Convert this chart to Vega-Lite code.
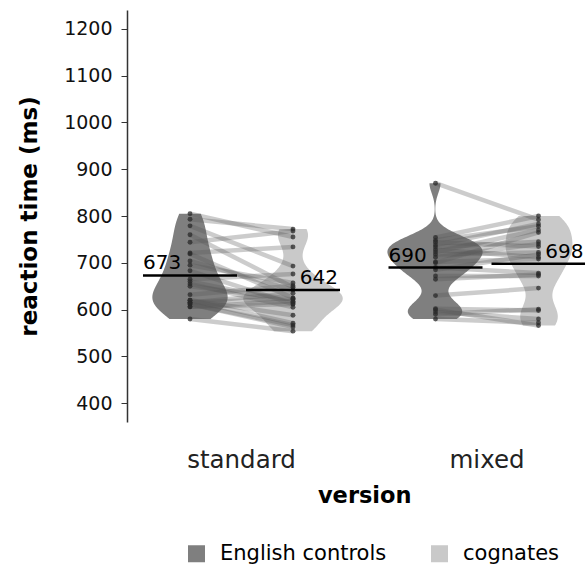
{
  "$schema": "https://vega.github.io/schema/vega-lite/v6.json",
  "autosize": {"type": "none"},
  "padding": {"left": 127, "top": 10, "right": 0, "bottom": 145},
  "width": 458,
  "height": 412,
  "background": "white",
  "config": {
    "font": "DejaVu Sans",
    "view": {"stroke": null},
    "axis": {"grid": false, "labelColor": "#111111", "titleColor": "#000000", "labelFont": "DejaVu Sans", "titleFont": "DejaVu Sans"},
    "legend": {"labelFont": "DejaVu Sans"},
    "area": {"orient": "horizontal"}
  },
  "datasets": {
    "rt": [
      {"version": "standard", "subject": "s01", "group": "English controls", "rt": 805}, {"version": "standard", "subject": "s01", "group": "cognates", "rt": 755},
      {"version": "standard", "subject": "s02", "group": "English controls", "rt": 760}, {"version": "standard", "subject": "s02", "group": "cognates", "rt": 648},
      {"version": "standard", "subject": "s03", "group": "English controls", "rt": 793}, {"version": "standard", "subject": "s03", "group": "cognates", "rt": 772},
      {"version": "standard", "subject": "s04", "group": "English controls", "rt": 779}, {"version": "standard", "subject": "s04", "group": "cognates", "rt": 693},
      {"version": "standard", "subject": "s05", "group": "English controls", "rt": 744}, {"version": "standard", "subject": "s05", "group": "cognates", "rt": 768},
      {"version": "standard", "subject": "s06", "group": "English controls", "rt": 721}, {"version": "standard", "subject": "s06", "group": "cognates", "rt": 734},
      {"version": "standard", "subject": "s07", "group": "English controls", "rt": 719}, {"version": "standard", "subject": "s07", "group": "cognates", "rt": 625},
      {"version": "standard", "subject": "s08", "group": "English controls", "rt": 704}, {"version": "standard", "subject": "s08", "group": "cognates", "rt": 642},
      {"version": "standard", "subject": "s09", "group": "English controls", "rt": 695}, {"version": "standard", "subject": "s09", "group": "cognates", "rt": 657},
      {"version": "standard", "subject": "s10", "group": "English controls", "rt": 683}, {"version": "standard", "subject": "s10", "group": "cognates", "rt": 612},
      {"version": "standard", "subject": "s11", "group": "English controls", "rt": 665}, {"version": "standard", "subject": "s11", "group": "cognates", "rt": 676},
      {"version": "standard", "subject": "s12", "group": "English controls", "rt": 660}, {"version": "standard", "subject": "s12", "group": "cognates", "rt": 616},
      {"version": "standard", "subject": "s13", "group": "English controls", "rt": 655}, {"version": "standard", "subject": "s13", "group": "cognates", "rt": 605},
      {"version": "standard", "subject": "s14", "group": "English controls", "rt": 650}, {"version": "standard", "subject": "s14", "group": "cognates", "rt": 622},
      {"version": "standard", "subject": "s15", "group": "English controls", "rt": 632}, {"version": "standard", "subject": "s15", "group": "cognates", "rt": 651},
      {"version": "standard", "subject": "s16", "group": "English controls", "rt": 620}, {"version": "standard", "subject": "s16", "group": "cognates", "rt": 588},
      {"version": "standard", "subject": "s17", "group": "English controls", "rt": 615}, {"version": "standard", "subject": "s17", "group": "cognates", "rt": 635},
      {"version": "standard", "subject": "s18", "group": "English controls", "rt": 612}, {"version": "standard", "subject": "s18", "group": "cognates", "rt": 567},
      {"version": "standard", "subject": "s19", "group": "English controls", "rt": 606}, {"version": "standard", "subject": "s19", "group": "cognates", "rt": 618},
      {"version": "standard", "subject": "s20", "group": "English controls", "rt": 620}, {"version": "standard", "subject": "s20", "group": "cognates", "rt": 571},
      {"version": "standard", "subject": "s21", "group": "English controls", "rt": 615}, {"version": "standard", "subject": "s21", "group": "cognates", "rt": 624},
      {"version": "standard", "subject": "s22", "group": "English controls", "rt": 612}, {"version": "standard", "subject": "s22", "group": "cognates", "rt": 563},
      {"version": "standard", "subject": "s23", "group": "English controls", "rt": 606}, {"version": "standard", "subject": "s23", "group": "cognates", "rt": 612},
      {"version": "standard", "subject": "s24", "group": "English controls", "rt": 580}, {"version": "standard", "subject": "s24", "group": "cognates", "rt": 554},
      {"version": "mixed", "subject": "m01", "group": "English controls", "rt": 870}, {"version": "mixed", "subject": "m01", "group": "cognates", "rt": 792},
      {"version": "mixed", "subject": "m02", "group": "English controls", "rt": 754}, {"version": "mixed", "subject": "m02", "group": "cognates", "rt": 800},
      {"version": "mixed", "subject": "m03", "group": "English controls", "rt": 748}, {"version": "mixed", "subject": "m03", "group": "cognates", "rt": 778},
      {"version": "mixed", "subject": "m04", "group": "English controls", "rt": 744}, {"version": "mixed", "subject": "m04", "group": "cognates", "rt": 735},
      {"version": "mixed", "subject": "m05", "group": "English controls", "rt": 738}, {"version": "mixed", "subject": "m05", "group": "cognates", "rt": 783},
      {"version": "mixed", "subject": "m06", "group": "English controls", "rt": 734}, {"version": "mixed", "subject": "m06", "group": "cognates", "rt": 745},
      {"version": "mixed", "subject": "m07", "group": "English controls", "rt": 728}, {"version": "mixed", "subject": "m07", "group": "cognates", "rt": 712},
      {"version": "mixed", "subject": "m08", "group": "English controls", "rt": 723}, {"version": "mixed", "subject": "m08", "group": "cognates", "rt": 770},
      {"version": "mixed", "subject": "m09", "group": "English controls", "rt": 718}, {"version": "mixed", "subject": "m09", "group": "cognates", "rt": 722},
      {"version": "mixed", "subject": "m10", "group": "English controls", "rt": 712}, {"version": "mixed", "subject": "m10", "group": "cognates", "rt": 740},
      {"version": "mixed", "subject": "m11", "group": "English controls", "rt": 700}, {"version": "mixed", "subject": "m11", "group": "cognates", "rt": 765},
      {"version": "mixed", "subject": "m12", "group": "English controls", "rt": 702}, {"version": "mixed", "subject": "m12", "group": "cognates", "rt": 708},
      {"version": "mixed", "subject": "m13", "group": "English controls", "rt": 690}, {"version": "mixed", "subject": "m13", "group": "cognates", "rt": 678},
      {"version": "mixed", "subject": "m14", "group": "English controls", "rt": 685}, {"version": "mixed", "subject": "m14", "group": "cognates", "rt": 718},
      {"version": "mixed", "subject": "m15", "group": "English controls", "rt": 672}, {"version": "mixed", "subject": "m15", "group": "cognates", "rt": 672},
      {"version": "mixed", "subject": "m16", "group": "English controls", "rt": 665}, {"version": "mixed", "subject": "m16", "group": "cognates", "rt": 675},
      {"version": "mixed", "subject": "m17", "group": "English controls", "rt": 630}, {"version": "mixed", "subject": "m17", "group": "cognates", "rt": 646},
      {"version": "mixed", "subject": "m18", "group": "English controls", "rt": 600}, {"version": "mixed", "subject": "m18", "group": "cognates", "rt": 566},
      {"version": "mixed", "subject": "m19", "group": "English controls", "rt": 602}, {"version": "mixed", "subject": "m19", "group": "cognates", "rt": 598},
      {"version": "mixed", "subject": "m20", "group": "English controls", "rt": 595}, {"version": "mixed", "subject": "m20", "group": "cognates", "rt": 580},
      {"version": "mixed", "subject": "m21", "group": "English controls", "rt": 590}, {"version": "mixed", "subject": "m21", "group": "cognates", "rt": 601},
      {"version": "mixed", "subject": "m22", "group": "English controls", "rt": 580}, {"version": "mixed", "subject": "m22", "group": "cognates", "rt": 572}
    ],
    "means": [
      {"version": "standard", "group": "English controls", "mean": 673},
      {"version": "standard", "group": "cognates", "mean": 642},
      {"version": "mixed", "group": "English controls", "mean": 690},
      {"version": "mixed", "group": "cognates", "mean": 698}
    ]
  },
  "resolve": {"scale": {"x": "independent"}},
  "layer": [
    {
      "data": {"name": "rt"},
      "transform": [
        {"filter": {"field": "version", "equal": "standard"}},
        {"filter": {"field": "group", "equal": "English controls"}},
        {"density": "rt", "groupby": ["group"], "bandwidth": 33, "extent": [580, 805], "steps": 120, "as": ["rt", "density"]}
      ],
      "mark": "area",
      "encoding": {
        "y": {"field": "rt", "type": "quantitative", "scale": {"domain": [360, 1240], "nice": false, "zero": false}},
        "x": {"field": "density", "type": "quantitative", "stack": "zero", "axis": null, "scale": {"domain": [-0.009844, 0.061719], "nice": false, "zero": false}},
        "color": {"field": "group", "type": "nominal"}
      }
    },
    {
      "data": {"name": "rt"},
      "transform": [
        {"filter": {"field": "version", "equal": "standard"}},
        {"filter": {"field": "group", "equal": "English controls"}},
        {"density": "rt", "groupby": ["group"], "bandwidth": 33, "extent": [580, 805], "steps": 120, "as": ["rt", "density"]}
      ],
      "mark": "area",
      "encoding": {
        "y": {"field": "rt", "type": "quantitative", "scale": {"domain": [360, 1240], "nice": false, "zero": false}},
        "x": {"field": "density", "type": "quantitative", "stack": "zero", "axis": null, "scale": {"domain": [-0.061719, 0.009844], "reverse": true, "nice": false, "zero": false}},
        "color": {"field": "group", "type": "nominal"}
      }
    },
    {
      "data": {"name": "rt"},
      "transform": [
        {"filter": {"field": "version", "equal": "standard"}},
        {"filter": {"field": "group", "equal": "cognates"}},
        {"density": "rt", "groupby": ["group"], "bandwidth": 24, "extent": [554, 772], "steps": 120, "as": ["rt", "density"]}
      ],
      "mark": "area",
      "encoding": {
        "y": {"field": "rt", "type": "quantitative", "scale": {"domain": [360, 1240], "nice": false, "zero": false}},
        "x": {"field": "density", "type": "quantitative", "stack": "zero", "axis": null, "scale": {"domain": [-0.025938, 0.045625], "nice": false, "zero": false}},
        "color": {"field": "group", "type": "nominal"}
      }
    },
    {
      "data": {"name": "rt"},
      "transform": [
        {"filter": {"field": "version", "equal": "standard"}},
        {"filter": {"field": "group", "equal": "cognates"}},
        {"density": "rt", "groupby": ["group"], "bandwidth": 24, "extent": [554, 772], "steps": 120, "as": ["rt", "density"]}
      ],
      "mark": "area",
      "encoding": {
        "y": {"field": "rt", "type": "quantitative", "scale": {"domain": [360, 1240], "nice": false, "zero": false}},
        "x": {"field": "density", "type": "quantitative", "stack": "zero", "axis": null, "scale": {"domain": [-0.045625, 0.025938], "reverse": true, "nice": false, "zero": false}},
        "color": {"field": "group", "type": "nominal"}
      }
    },
    {
      "data": {"name": "rt"},
      "transform": [
        {"filter": {"field": "version", "equal": "mixed"}},
        {"filter": {"field": "group", "equal": "English controls"}},
        {"density": "rt", "groupby": ["group"], "bandwidth": 21, "extent": [580, 870], "steps": 150, "as": ["rt", "density"]}
      ],
      "mark": "area",
      "encoding": {
        "y": {"field": "rt", "type": "quantitative", "scale": {"domain": [360, 1240], "nice": false, "zero": false}},
        "x": {"field": "density", "type": "quantitative", "stack": "zero", "axis": null, "scale": {"domain": [-0.048125, 0.023438], "nice": false, "zero": false}},
        "color": {"field": "group", "type": "nominal"}
      }
    },
    {
      "data": {"name": "rt"},
      "transform": [
        {"filter": {"field": "version", "equal": "mixed"}},
        {"filter": {"field": "group", "equal": "English controls"}},
        {"density": "rt", "groupby": ["group"], "bandwidth": 21, "extent": [580, 870], "steps": 150, "as": ["rt", "density"]}
      ],
      "mark": "area",
      "encoding": {
        "y": {"field": "rt", "type": "quantitative", "scale": {"domain": [360, 1240], "nice": false, "zero": false}},
        "x": {"field": "density", "type": "quantitative", "stack": "zero", "axis": null, "scale": {"domain": [-0.023438, 0.048125], "reverse": true, "nice": false, "zero": false}},
        "color": {"field": "group", "type": "nominal"}
      }
    },
    {
      "data": {"name": "rt"},
      "transform": [
        {"filter": {"field": "version", "equal": "mixed"}},
        {"filter": {"field": "group", "equal": "cognates"}},
        {"density": "rt", "groupby": ["group"], "bandwidth": 28, "extent": [566, 800], "steps": 120, "as": ["rt", "density"]}
      ],
      "mark": "area",
      "encoding": {
        "y": {"field": "rt", "type": "quantitative", "scale": {"domain": [360, 1240], "nice": false, "zero": false}},
        "x": {"field": "density", "type": "quantitative", "stack": "zero", "axis": null, "scale": {"domain": [-0.064375, 0.007188], "nice": false, "zero": false}},
        "color": {"field": "group", "type": "nominal"}
      }
    },
    {
      "data": {"name": "rt"},
      "transform": [
        {"filter": {"field": "version", "equal": "mixed"}},
        {"filter": {"field": "group", "equal": "cognates"}},
        {"density": "rt", "groupby": ["group"], "bandwidth": 28, "extent": [566, 800], "steps": 120, "as": ["rt", "density"]}
      ],
      "mark": "area",
      "encoding": {
        "y": {"field": "rt", "type": "quantitative", "scale": {"domain": [360, 1240], "nice": false, "zero": false}},
        "x": {"field": "density", "type": "quantitative", "stack": "zero", "axis": null, "scale": {"domain": [-0.007188, 0.064375], "reverse": true, "nice": false, "zero": false}},
        "color": {
          "field": "group", "type": "nominal",
          "scale": {"domain": ["English controls", "cognates"], "range": ["#7f7f7f", "#c9c9c9"]},
          "legend": {
            "title": null, "orient": "none", "legendX": 59, "legendY": 533, "direction": "horizontal",
            "symbolType": "square", "symbolSize": 289, "symbolStrokeWidth": 0, "symbolOpacity": 1,
            "labelFontSize": 21, "labelLimit": 400, "labelColor": "#000000", "labelOffset": 13, "columnPadding": 42
          }
        }
      }
    },
    {
      "layer": [
        {
          "data": {"name": "rt"},
          "mark": {"type": "line", "color": "#555555", "opacity": 0.3, "strokeWidth": 4.5},
          "encoding": {
            "x": {"field": "version", "type": "nominal"},
            "xOffset": {"field": "group", "type": "nominal"},
            "y": {"field": "rt", "type": "quantitative"},
            "detail": {"field": "subject", "type": "nominal"}
          }
        },
        {
          "data": {"name": "rt"},
          "mark": {"type": "circle", "color": "#2a2a2a", "opacity": 0.75, "size": 24},
          "encoding": {
            "x": {"field": "version", "type": "nominal"},
            "xOffset": {"field": "group", "type": "nominal"},
            "y": {"field": "rt", "type": "quantitative"}
          }
        },
        {
          "data": {"name": "means"},
          "mark": {"type": "tick", "color": "#000000", "size": 94, "thickness": 2.5, "opacity": 1},
          "encoding": {
            "x": {"field": "version", "type": "nominal"},
            "xOffset": {"field": "group", "type": "nominal"},
            "y": {"field": "mean", "type": "quantitative"}
          }
        },
        {
          "data": {"name": "means"},
          "transform": [{"filter": {"field": "group", "equal": "English controls"}}],
          "mark": {"type": "text", "align": "left", "baseline": "alphabetic", "dx": -47, "dy": -6, "fontSize": 20, "color": "#000000"},
          "encoding": {
            "x": {"field": "version", "type": "nominal"},
            "xOffset": {"field": "group", "type": "nominal"},
            "y": {"field": "mean", "type": "quantitative"},
            "text": {"field": "mean", "type": "quantitative"}
          }
        },
        {
          "data": {"name": "means"},
          "transform": [{"filter": {"field": "group", "equal": "cognates"}}],
          "mark": {"type": "text", "align": "right", "baseline": "alphabetic", "dx": 45, "dy": -6, "fontSize": 20, "color": "#000000"},
          "encoding": {
            "x": {"field": "version", "type": "nominal"},
            "xOffset": {"field": "group", "type": "nominal"},
            "y": {"field": "mean", "type": "quantitative"},
            "text": {"field": "mean", "type": "quantitative"}
          }
        }
      ],
      "encoding": {
        "x": {
          "field": "version", "type": "nominal", "sort": ["standard", "mixed"],
          "scale": {"type": "band", "domain": ["standard", "mixed"], "range": [-8.25, 482.75], "paddingInner": 0, "paddingOuter": 0},
          "axis": {"title": "version", "labelAngle": 0, "domain": false, "ticks": false, "labelFontSize": 24.5, "labelColor": "#222222", "labelPadding": 26, "titleFontSize": 22.5, "titleFontWeight": "bold", "titlePadding": 13}
        },
        "xOffset": {
          "field": "group", "type": "nominal",
          "scale": {"type": "band", "domain": ["English controls", "cognates"], "paddingInner": 0, "paddingOuter": 0.1917}
        },
        "y": {
          "type": "quantitative",
          "scale": {"domain": [360, 1240], "nice": false, "zero": false},
          "axis": {"title": "reaction time (ms)", "format": "d", "values": [400, 500, 600, 700, 800, 900, 1000, 1100, 1200], "labelFontSize": 19, "tickSize": 6, "tickColor": "#333333", "domainColor": "#333333", "domainWidth": 1.5, "labelPadding": 9, "titleFontSize": 23, "titleFontWeight": "bold", "titlePadding": 22}
        }
      }
    }
  ]
}
